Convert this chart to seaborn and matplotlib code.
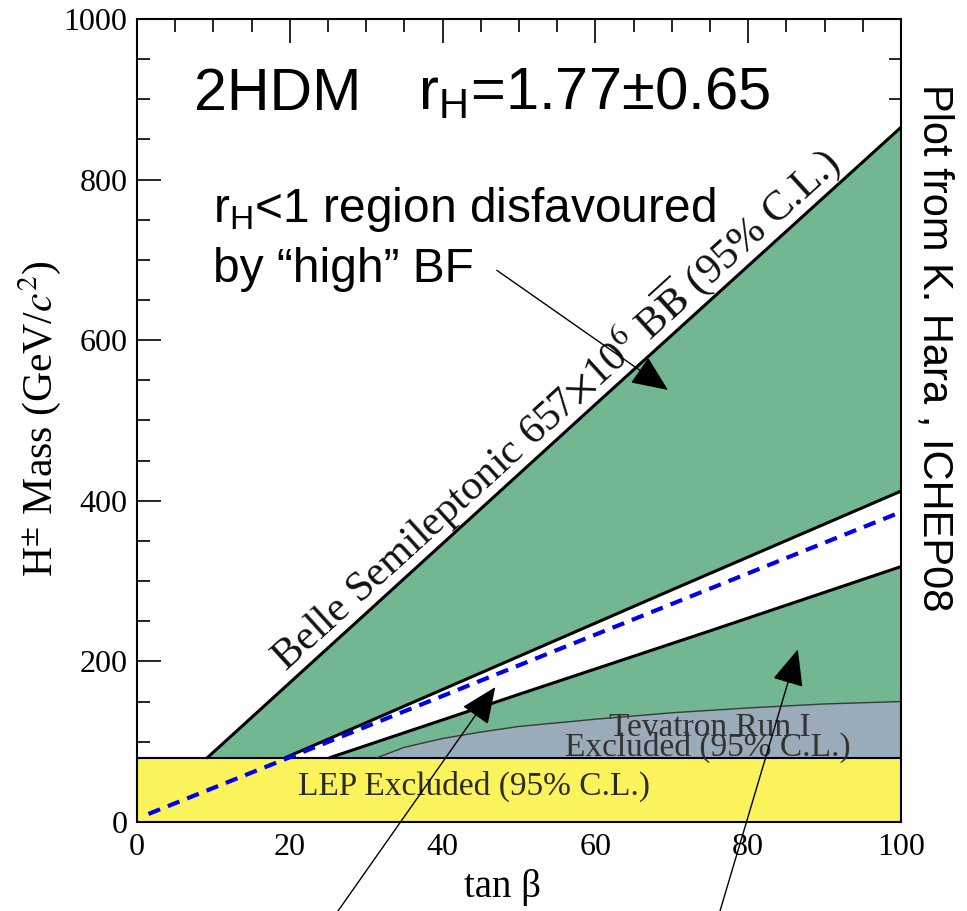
"""
2HDM charged Higgs exclusion plane (tan beta vs H+ mass)
"""

import numpy as np
import matplotlib
matplotlib.use("Agg")
import matplotlib.pyplot as plt
from matplotlib.ticker import MultipleLocator
import seaborn as sns

sns.set_style("ticks")
plt.rcParams["font.family"] = ["Liberation Serif", "DejaVu Serif"]
plt.rcParams["text.color"] = "black"
plt.rcParams["axes.labelcolor"] = "black"
plt.rcParams["mathtext.fontset"] = "custom"
plt.rcParams["mathtext.rm"] = "Liberation Sans"
plt.rcParams["mathtext.it"] = "Liberation Sans:italic"

# boundaries: tan(beta) and H+ mass [GeV]
belle_tanb = [9.2, 30, 60, 100]
belle_mass = [80, 260, 520, 865]
upper_tanb = [19.4, 40, 70, 100]
upper_mass = [80, 165, 289, 412]
lower_tanb = [25.2, 50, 75, 100]
lower_mass = [80, 159, 238, 318]
tev_tanb = [31.4, 35, 40, 45, 50, 60, 70, 80, 90, 100]
tev_mass = [80, 93, 104, 112, 119, 128, 136, 142, 147, 150]
rh_tanb = [1.5, 100]
rh_mass = [10, 386]
lep_limit = 80

x_ticks = [0, 20, 40, 60, 80, 100]
y_ticks = [0, 200, 400, 600, 800, 1000]

GREEN = "#73b692"
GREY = "#9aabb9"
YELLOW = "#fbf35b"
SANS = "Liberation Sans"

fig = plt.figure(figsize=(9.67, 9.11), dpi=100)
ax = fig.add_axes([0.1417, 0.0977, 0.790, 0.8815])
ax.set_xlim(0, 100)
ax.set_ylim(0, 1000)

# filled regions, painted back to front
grid = np.linspace(0, 100, 1001)
ax.fill_between(grid, lep_limit, np.interp(grid, belle_tanb, belle_mass), color=GREEN, lw=0)
ax.fill_between(grid, np.interp(grid, lower_tanb, lower_mass),
                np.interp(grid, upper_tanb, upper_mass), color="white", lw=0)
ax.fill_between(grid, lep_limit, np.interp(grid, tev_tanb, tev_mass), color=GREY, lw=0)
ax.axhspan(0, lep_limit, color=YELLOW, lw=0)
ax.axhline(lep_limit, color="black", lw=1.5)

# boundary lines
for xs, ys in [(belle_tanb, belle_mass), (upper_tanb, upper_mass), (lower_tanb, lower_mass)]:
    sns.lineplot(x=xs, y=ys, color="black", lw=2.2, ax=ax)
sns.lineplot(x=tev_tanb, y=tev_mass, color="#3a3a3a", lw=1.0, ax=ax)
sns.lineplot(x=rh_tanb, y=rh_mass, color="#0000ee", lw=3.0, linestyle=(0, (3.0, 2.0)), ax=ax)

# axes styling
ax.set_xticks(x_ticks)
ax.set_yticks(y_ticks)
ax.xaxis.set_minor_locator(MultipleLocator(5))
ax.yaxis.set_minor_locator(MultipleLocator(50))
ax.tick_params(which="both", direction="in", top=True, right=True, width=1.2,
               color="black", labelcolor="black", labelsize=23)
ax.tick_params(which="major", length=17)
ax.tick_params(which="minor", length=9)
ax.tick_params(axis="x", pad=8)
ax.tick_params(axis="y", pad=7)
for sp in ax.spines.values():
    sp.set_linewidth(1.5)
    sp.set_color("black")

ax.set_xlabel("tan β", fontsize=28, va="center")
ax.xaxis.set_label_coords(0.478, -0.081)
ax.set_ylabel(r"H$^{\pm}$ Mass (GeV/$c^2$)", fontsize=30, va="center", math_fontfamily="stix")
ax.yaxis.set_label_coords(-0.127, 0.503)

# text labels
ax.text(7.4, 887, "2HDM", family=SANS, fontsize=42.5)
ax.text(36.8, 887, r"r$_{\mathrm{H}}$=1.77±0.65", family=SANS, fontsize=43)
ax.text(9.95, 747, r"r$_{\mathrm{H}}$<1 region disfavoured", family=SANS, fontsize=34.5)
ax.text(9.95, 672, "by “high” BF", family=SANS, fontsize=34.5)
fig.text(935 / 967, 1 - 348 / 911, "Plot from K. Hara , ICHEP08", family=SANS,
         fontsize=30, rotation=270, ha="center", va="center")

p0 = ax.transData.transform((belle_tanb[0], belle_mass[0]))
p1 = ax.transData.transform((belle_tanb[-1], belle_mass[-1]))
angle = np.degrees(np.arctan2(p1[1] - p0[1], p1[0] - p0[0]))
ax.text(20.4, np.interp(20.4, belle_tanb, belle_mass),
        r"Belle Semileptonic 657$\times$10$^6$ B$\overline{\mathrm{B}}$ (95% C.L.)",
        fontsize=30.5, rotation=angle, rotation_mode="anchor", ha="left", va="bottom",
        math_fontfamily="stix", color="#111111")

ax.text(21.1, 34, "LEP Excluded (95% C.L.)", fontsize=24, color="#2b2b1e")
ax.text(75.0, 107, "Tevatron Run I", fontsize=24, color="#333333", ha="center")
ax.text(74.7, 83, "Excluded (95% C.L.)", fontsize=24, color="#333333", ha="center")

# arrows
arrow = dict(arrowstyle="-|>,head_length=1.15,head_width=0.5", color="black", lw=1,
             mutation_scale=20, shrinkA=0, shrinkB=0)
ax.annotate("", xy=(69.5, 538), xytext=(47.1, 687), arrowprops=arrow)
ax.annotate("", xy=(46.9, 168), xytext=(338 / 967, 0), textcoords="figure fraction",
            arrowprops=arrow, annotation_clip=False)
ax.annotate("", xy=(86.5, 215), xytext=(720 / 967, 0), textcoords="figure fraction",
            arrowprops=arrow, annotation_clip=False)

fig.savefig("out.png", dpi=100)
plt.close(fig)
